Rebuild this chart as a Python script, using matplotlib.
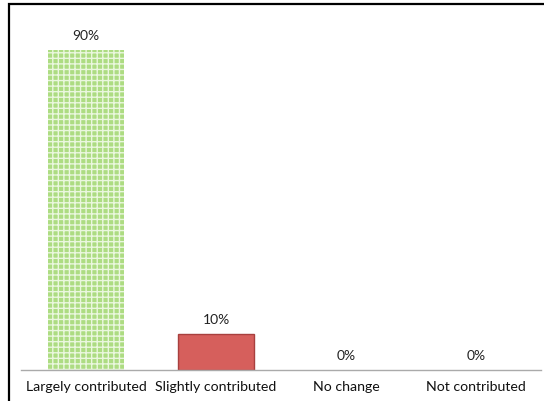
import numpy as np
import matplotlib
matplotlib.use('Agg')
import matplotlib.pyplot as plt
from matplotlib.patches import Rectangle

categories = ['Largely contributed', 'Slightly contributed', 'No change', 'Not contributed']
values = [90, 10, 0, 0]
labels = ['90%', '10%', '0%', '0%']

plt.rcParams['font.family'] = ['Lato', 'DejaVu Sans']
plt.rcParams['hatch.linewidth'] = 1.0

fig = plt.figure(figsize=(5.44, 4.01), dpi=100)
ax = fig.add_axes([21/544, 1 - 370/401, 520/544, 355.6/401])

x = np.arange(len(categories))
bars = ax.bar(x, values, width=0.59)
# first bar: light green dotted look
bars[0].set_facecolor('#addc82')
bars[0].set_edgecolor('#eaf7de')
bars[0].set_hatch('+++')
bars[0].set_linewidth(0)
# second bar: red
bars[1].set_facecolor('#d65f5c')
bars[1].set_edgecolor('#a8403e')
bars[1].set_linewidth(1)

for xi, v, lab in zip(x, values, labels):
    ax.annotate(lab, (xi, v), xytext=(0, 6), textcoords='offset points',
                ha='center', va='bottom', fontsize=10, color='#222222')

ax.set_xlim(-0.5, 3.5)
ax.set_ylim(0, 100)
ax.set_xticks(x)
ax.set_xticklabels(categories, fontsize=10.2, color='#111111')
ax.tick_params(axis='x', length=0, pad=8)
ax.set_yticks([])
for s in ['top', 'right', 'left']:
    ax.spines[s].set_visible(False)
ax.spines['bottom'].set_color('#aaaaaa')
ax.spines['bottom'].set_linewidth(1)

# outer frame, only left and top visible in the crop
fig.add_artist(Rectangle((9/544, -0.2), 1.2, 1.2 - 4/401, transform=fig.transFigure,
                         fill=False, edgecolor='black', linewidth=1.6))

fig.savefig('out.png', dpi=100)
